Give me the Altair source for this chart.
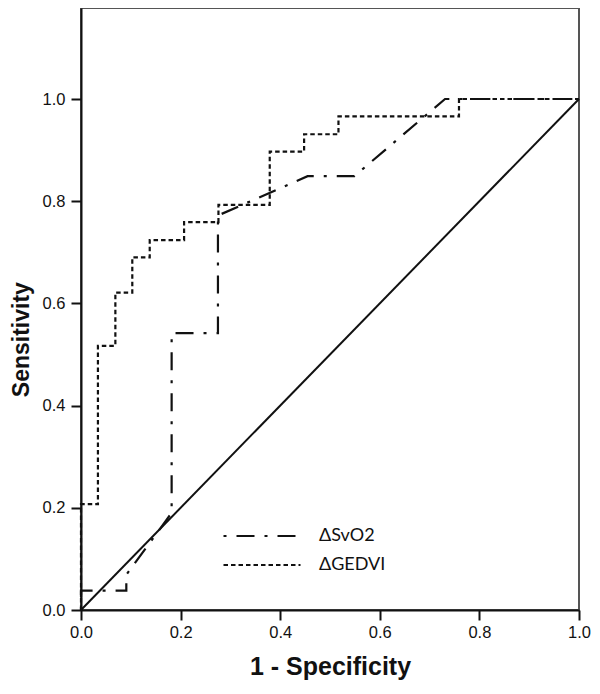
import altair as alt
import pandas as pd

# ROC curve points
svo2_fpr = [0.0, 0.0, 0.091, 0.091, 0.182, 0.182, 0.275, 0.275, 0.455, 0.549, 0.731, 1.0]
svo2_tpr = [0.0, 0.038, 0.038, 0.069, 0.19, 0.542, 0.542, 0.772, 0.849, 0.849, 1.0, 1.0]

gedvi_fpr = [0.0, 0.0, 0.034, 0.034, 0.069, 0.069, 0.103, 0.103, 0.138, 0.138, 0.207, 0.207,
             0.276, 0.276, 0.379, 0.379, 0.448, 0.448, 0.517, 0.517, 0.759, 0.759, 1.0]
gedvi_tpr = [0.0, 0.207, 0.207, 0.517, 0.517, 0.621, 0.621, 0.69, 0.69, 0.724, 0.724, 0.759,
             0.759, 0.793, 0.793, 0.897, 0.897, 0.931, 0.931, 0.966, 0.966, 1.0, 1.0]

ref_x = [0.0, 1.0]
ref_y = [0.0, 1.0]

series_names = ["ΔSvO2", "ΔGEDVI"]
tick_values = [0.0, 0.2, 0.4, 0.6, 0.8, 1.0]

rows = []
for i, (x, y) in enumerate(zip(svo2_fpr, svo2_tpr)):
    rows.append({"fpr": x, "tpr": y, "series": series_names[0], "idx": i})
for i, (x, y) in enumerate(zip(gedvi_fpr, gedvi_tpr)):
    rows.append({"fpr": x, "tpr": y, "series": series_names[1], "idx": i})
df = pd.DataFrame(rows)
ref_df = pd.DataFrame({"fpr": ref_x, "tpr": ref_y})

PLOT_W = 498
PLOT_H = 602
Y_MAX = PLOT_H / 511.0

xscale = alt.Scale(domain=[0, 1], nice=False, zero=False)
yscale = alt.Scale(domain=[0, Y_MAX], nice=False, zero=False)

FONT = "Arial, Liberation Sans, sans-serif"

axis_common = dict(
    values=tick_values, format=".1f", grid=False, labelFlush=False, labelOverlap=False,
    tickSize=10, tickWidth=2, tickColor="#111", domainColor="#111", domainWidth=2,
    labelFont=FONT, labelFontSize=16.5, labelColor="#111",
    titleFont=FONT, titleFontWeight="bold", titleColor="#111",
)

xaxis = alt.Axis(title="1 - Specificity", labelPadding=4, titleY=64, titleFontSize=25,
                 titleBaseline="alphabetic", titleX=PLOT_W / 2, **axis_common)
yaxis = alt.Axis(title="Sensitivity", labelPadding=6, titleX=-53, titleY=(PLOT_H - 0.53 * 511),
                 titleFontSize=23, titleBaseline="alphabetic", titleAngle=270, **axis_common)

diag = alt.Chart(ref_df).mark_line(color="#111", strokeWidth=2).encode(
    x=alt.X("fpr:Q", scale=xscale, axis=xaxis),
    y=alt.Y("tpr:Q", scale=yscale, axis=yaxis),
)

curves = alt.Chart(df).mark_line(color="#111", strokeWidth=2.2).encode(
    x=alt.X("fpr:Q", scale=xscale),
    y=alt.Y("tpr:Q", scale=yscale),
    order=alt.Order("idx:Q"),
    detail="series:N",
    strokeDash=alt.StrokeDash(
        "series:N",
        scale=alt.Scale(domain=series_names, range=[[3, 10, 18, 10], [4.5, 3]]),
        legend=alt.Legend(
            title=None, orient="none", legendX=172, legendY=519,
            symbolType="M-7.7,0H7.7", symbolSize=100, symbolStrokeWidth=2.2,
            symbolStrokeColor="#111", symbolFillColor="transparent",
            labelFont="Lato", labelFontSize=18, labelColor="#111",
            labelOffset=48, rowPadding=11, padding=0,
        ),
    ),
)

chart = alt.layer(diag, curves).properties(
    width=PLOT_W, height=PLOT_H,
    autosize=alt.AutoSizeParams(type="none"),
    padding={"left": 73, "top": 0, "right": 13, "bottom": 76},
).configure_view(stroke="#555", strokeWidth=2)

chart.save("out.html", embed_options={"renderer": "svg", "actions": False})
